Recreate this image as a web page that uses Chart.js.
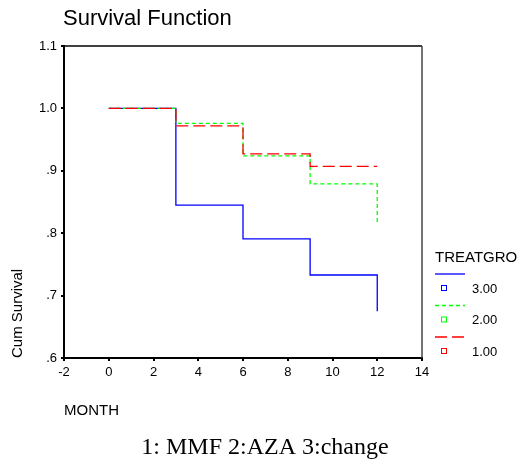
<!DOCTYPE html>
<html><head><meta charset="utf-8">
<script src="https://cdn.jsdelivr.net/npm/chart.js@4/dist/chart.umd.min.js"></script>
<style>html,body{margin:0;padding:0;background:#fff;}#wrap{width:526px;height:460px;}</style>
</head><body><div id="wrap"><canvas id="c" width="526" height="460"></canvas></div>
<script>
const chartTitle = "Survival Function";
const caption = "1: MMF 2:AZA 3:change";
const xTitle = "MONTH";
const yTitle = "Cum Survival";
const legendTitle = "TREATGRO";
const months = [0, 3, 6, 9, 12];
const surv3 = [1.0, 0.845, 0.791, 0.733, 0.675];
const surv2 = [1.0, 0.976, 0.924, 0.879, 0.814];
const surv1 = [1.0, 0.972, 0.927, 0.907, 0.907];
const groupLabels = ["3.00", "2.00", "1.00"];
const groupColors = ["#0000ff", "#00ff00", "#ff0000"];
const groupDash = [[], [4, 3], [12, 5]];
const xTicks = [-2, 0, 2, 4, 6, 8, 10, 12, 14];
const yTicks = [0.6, 0.7, 0.8, 0.9, 1.0, 1.1];
const yTickLabels = [".6", ".7", ".8", ".9", "1.0", "1.1"];

const seriesVals = [surv3, surv2, surv1];
const pts = v => months.map((m, i) => ({x: m, y: v[i]}));

// draw red (1.00) on top: dataset index 0 is drawn last
const order = [2, 1, 0];
const datasets = order.map(g => ({
  label: groupLabels[g],
  data: pts(seriesVals[g]),
  borderColor: groupColors[g],
  borderWidth: 1.3,
  borderDash: groupDash[g],
  stepped: true,
  pointRadius: 0,
  fill: false
}));

const F = "'Liberation Sans', Arial, sans-serif";

const decor = {
  id: 'decor',
  afterDatasetsDraw(chart) {
    const ctx = chart.ctx, a = chart.chartArea;
    ctx.save();
    ctx.lineWidth = 1.5;
    ctx.strokeStyle = '#000';
    ctx.beginPath(); ctx.moveTo(a.left, a.top); ctx.lineTo(a.right, a.top); ctx.stroke();
    ctx.strokeStyle = '#444';
    ctx.beginPath(); ctx.moveTo(a.right, a.top); ctx.lineTo(a.right, a.bottom); ctx.stroke();
    ctx.restore();
  },
  afterDraw(chart) {
    const ctx = chart.ctx, a = chart.chartArea;
    ctx.save();
    ctx.fillStyle = '#000';
    ctx.textBaseline = 'middle';
    ctx.textAlign = 'left';
    ctx.font = "22px " + F;
    ctx.fillText(chartTitle, a.left - 1, 19);
    ctx.textAlign = 'center';
    ctx.font = "24px 'Liberation Serif', 'Times New Roman', serif";
    ctx.fillText(caption, 265, 448);
    const lx = a.right + 13;
    ctx.textAlign = 'left';
    ctx.font = "15px " + F;
    ctx.fillText(legendTitle, lx, 258);
    for (let g = 0; g < groupLabels.length; g++) {
      const base = 274 + g * 31.5;
      ctx.strokeStyle = groupColors[g];
      ctx.lineWidth = 1.3;
      ctx.setLineDash(groupDash[g]);
      ctx.beginPath(); ctx.moveTo(lx, base); ctx.lineTo(lx + 30, base); ctx.stroke();
      ctx.setLineDash([]);
      ctx.lineWidth = 1;
      ctx.strokeRect(lx + 6.5, base + 11.5, 5, 5);
      ctx.fillStyle = '#000';
      ctx.font = "13px " + F;
      ctx.fillText(groupLabels[g], lx + 37, base + 15);
    }
    ctx.restore();
  }
};

new Chart(document.getElementById('c'), {
  type: 'line',
  data: {datasets},
  options: {
    responsive: false,
    animation: false,
    devicePixelRatio: 1,
    layout: {padding: {left: 0, top: 46, right: 104, bottom: 0}},
    plugins: {legend: {display: false}, tooltip: {enabled: false}, title: {display: false}},
    scales: {
      x: {
        type: 'linear', min: -2, max: 14,
        afterFit: s => { s.height = 102; },
        afterBuildTicks: s => { s.ticks = xTicks.map(v => ({value: v})); },
        ticks: {color: '#000', font: {family: F, size: 13}, padding: 4, maxRotation: 0,
                callback: v => String(v)},
        grid: {drawOnChartArea: false, drawTicks: true, tickLength: 3, lineWidth: 2, color: '#000'},
        border: {display: true, color: '#000', width: 2},
        title: {display: true, text: xTitle, align: 'start', color: '#000',
                font: {family: F, size: 15}, padding: {top: 0, bottom: 40}}
      },
      y: {
        type: 'linear', min: 0.6, max: 1.1,
        afterFit: s => { s.width = 64; },
        afterBuildTicks: s => { s.ticks = yTicks.map(v => ({value: v})); },
        ticks: {color: '#000', font: {family: F, size: 13}, padding: 4,
                callback: v => { const i = yTicks.findIndex(t => Math.abs(t - v) < 1e-6); return i >= 0 ? yTickLabels[i] : ''; }},
        grid: {drawOnChartArea: false, drawTicks: true, tickLength: 3, lineWidth: 2, color: '#000'},
        border: {display: true, color: '#000', width: 2},
        title: {display: true, text: yTitle, align: 'start', color: '#000',
                font: {family: F, size: 15}, padding: {top: 9, bottom: 0}}
      }
    }
  },
  plugins: [decor]
});
</script>
</body></html>
